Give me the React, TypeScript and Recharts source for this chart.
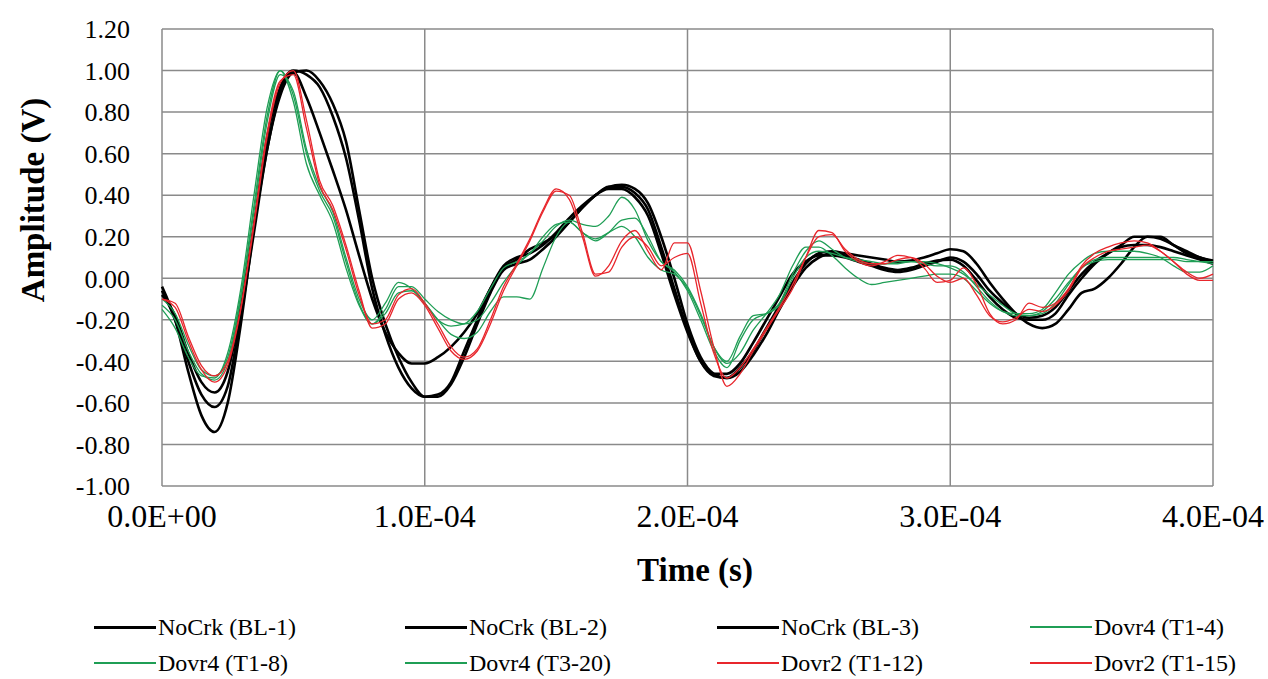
import { CartesianGrid, Label, Line, LineChart, XAxis, YAxis } from 'recharts';

// Sample times in microseconds (converted to seconds for the x axis)
const TIME_US = [
  0, 5, 10, 15, 20, 25, 30, 35, 40, 45, 50, 55, 60, 65, 70, 75, 80, 85, 90, 95,
  100, 105, 110, 115, 120, 125, 130, 135, 140, 145, 150, 155, 160, 165, 170, 175, 180, 185, 190, 195,
  200, 205, 210, 215, 220, 225, 230, 235, 240, 245, 250, 255, 260, 265, 270, 275, 280, 285, 290, 295,
  300, 305, 310, 315, 320, 325, 330, 335, 340, 345, 350, 355, 360, 365, 370, 375, 380, 385, 390, 395,
  400,
];

// Amplitude (V) per sample
const BL1 = [
  -0.04, -0.2, -0.45, -0.66, -0.74, -0.6, -0.22, 0.25, 0.68, 0.92, 1.0, 0.98, 0.92, 0.78, 0.58, 0.28, -0.05, -0.27, -0.43, -0.53,
  -0.57, -0.56, -0.5, -0.35, -0.2, -0.05, 0.06, 0.1, 0.12, 0.16, 0.22, 0.29, 0.35, 0.4, 0.44, 0.44, 0.41, 0.33, 0.15, -0.05,
  -0.25, -0.4, -0.47, -0.48, -0.43, -0.35, -0.24, -0.13, -0.02, 0.07, 0.12, 0.13, 0.12, 0.11, 0.1, 0.09, 0.08, 0.085, 0.1, 0.12,
  0.14, 0.13, 0.07, -0.02, -0.1, -0.17, -0.22, -0.24, -0.22, -0.15, -0.07, -0.05, 0.0, 0.07, 0.15, 0.2, 0.2, 0.16, 0.13, 0.1,
  0.085,
];
const BL2 = [
  -0.06, -0.2, -0.4, -0.56, -0.62, -0.52, -0.18, 0.22, 0.62, 0.88, 0.99, 1.0, 0.95, 0.84, 0.66, 0.33, 0.0, -0.22, -0.38, -0.5,
  -0.57, -0.57, -0.51, -0.38, -0.22, -0.07, 0.04, 0.07, 0.09, 0.14, 0.2, 0.27, 0.34, 0.4, 0.44, 0.45, 0.43, 0.36, 0.2, 0.0,
  -0.22, -0.38, -0.46, -0.48, -0.45, -0.37, -0.27, -0.15, -0.04, 0.05, 0.1, 0.12, 0.11, 0.09, 0.07, 0.05, 0.04, 0.05, 0.07, 0.085,
  0.09, 0.06, -0.01, -0.09, -0.15, -0.19, -0.2, -0.2, -0.17, -0.08, 0.0, 0.07, 0.12, 0.16, 0.2, 0.2, 0.19, 0.16, 0.12, 0.1,
  0.08,
];
const BL3 = [
  -0.08, -0.18, -0.36, -0.5, -0.55, -0.45, -0.14, 0.25, 0.62, 0.9, 0.99, 0.87, 0.7, 0.52, 0.33, 0.11, -0.1, -0.26, -0.36, -0.41,
  -0.41, -0.38, -0.33, -0.26, -0.17, -0.05, 0.05, 0.09, 0.14, 0.17, 0.21, 0.27, 0.34, 0.4, 0.43, 0.43, 0.39, 0.3, 0.12, -0.08,
  -0.26, -0.4, -0.46, -0.46, -0.41, -0.31, -0.2, -0.09, 0.02, 0.08, 0.11, 0.11, 0.1, 0.08, 0.06, 0.04, 0.03, 0.04, 0.06, 0.08,
  0.1, 0.08, 0.02, -0.06, -0.12, -0.17, -0.19, -0.18, -0.14, -0.06, 0.02, 0.08, 0.12, 0.15, 0.16, 0.16, 0.15, 0.13, 0.11, 0.09,
  0.07,
];
const T1_4 = [
  -0.1, -0.17, -0.32, -0.44, -0.47, -0.38, -0.08, 0.35, 0.78, 1.0, 0.88, 0.6, 0.42, 0.3, 0.08, -0.12, -0.22, -0.15, -0.04, -0.04,
  -0.1, -0.16, -0.2, -0.22, -0.2, -0.12, -0.02, 0.06, 0.12, 0.18, 0.25, 0.28, 0.26, 0.25, 0.3, 0.39, 0.33, 0.18, 0.08, 0.03,
  -0.06, -0.2, -0.35, -0.43, -0.3, -0.2, -0.17, -0.12, 0.02, 0.13, 0.18, 0.14, 0.1, 0.08, 0.07, 0.07, 0.08, 0.08, 0.07, 0.06,
  0.06, 0.03, -0.04, -0.11, -0.16, -0.18, -0.18, -0.16, -0.1, -0.02, 0.05, 0.09, 0.1, 0.1, 0.1, 0.1, 0.1, 0.1, 0.09, 0.08,
  0.07,
];
const T1_8 = [
  -0.13, -0.2, -0.35, -0.46, -0.49, -0.4, -0.1, 0.32, 0.75, 0.98, 0.9, 0.62, 0.44, 0.32, 0.1, -0.1, -0.2, -0.12, -0.02, -0.05,
  -0.12, -0.2, -0.27, -0.29, -0.26, -0.16, -0.09, -0.09, -0.1, 0.05, 0.2, 0.27, 0.22, 0.18, 0.22, 0.28, 0.29, 0.2, 0.08, 0.04,
  -0.04, -0.17, -0.33, -0.41, -0.36, -0.25, -0.17, -0.08, 0.06, 0.15, 0.15, 0.11, 0.05, 0.0, -0.03, -0.02, -0.01, 0.0, 0.01, 0.02,
  0.02, 0.0, -0.06, -0.12, -0.16, -0.17, -0.17, -0.15, -0.07, 0.02, 0.08, 0.12, 0.13, 0.13, 0.13, 0.12, 0.1, 0.06, 0.03, 0.03,
  0.06,
];
const T3_20 = [
  -0.15, -0.24, -0.38, -0.47, -0.48, -0.36, -0.05, 0.4, 0.82, 1.0, 0.85, 0.55, 0.4, 0.27, 0.05, -0.13, -0.22, -0.17, -0.07, -0.06,
  -0.12, -0.2, -0.23, -0.22, -0.16, -0.05, 0.05, 0.08, 0.12, 0.2, 0.26, 0.27, 0.22, 0.19, 0.22, 0.25, 0.2, 0.1, 0.04, 0.02,
  -0.05, -0.18, -0.33, -0.4, -0.28, -0.18, -0.17, -0.13, 0.0, 0.1, 0.13, 0.12, 0.1, 0.09, 0.08, 0.07, 0.07, 0.08, 0.08, 0.07,
  0.05, 0.02, -0.03, -0.08, -0.13, -0.17, -0.18, -0.17, -0.12, -0.03, 0.05, 0.08, 0.09, 0.09, 0.09, 0.09, 0.09, 0.09, 0.08, 0.08,
  0.08,
];
const T1_12 = [
  -0.1, -0.12, -0.28, -0.42, -0.47, -0.4, -0.14, 0.27, 0.7, 0.95, 0.98, 0.72, 0.45, 0.33, 0.14, -0.08, -0.22, -0.2, -0.08, -0.05,
  -0.12, -0.22, -0.33, -0.38, -0.34, -0.2, -0.04, 0.07, 0.19, 0.33, 0.43, 0.38, 0.2, 0.01, 0.06, 0.18, 0.23, 0.13, 0.04, 0.17,
  0.17, -0.06, -0.33, -0.52, -0.46, -0.35, -0.25, -0.15, -0.05, 0.1, 0.23, 0.22, 0.13, 0.08, 0.06, 0.08, 0.11, 0.1, 0.05, -0.02,
  -0.01, 0.05, -0.03, -0.17, -0.22, -0.2, -0.12, -0.14, -0.12, -0.05, 0.06, 0.12, 0.15, 0.17, 0.18, 0.17, 0.13, 0.08, 0.02, -0.01,
  -0.01,
];
const T1_15 = [
  -0.1, -0.14, -0.3, -0.44, -0.5, -0.42, -0.15, 0.25, 0.68, 0.94, 1.0, 0.76, 0.47, 0.35, 0.16, -0.06, -0.24, -0.22, -0.1, -0.07,
  -0.13, -0.24, -0.35, -0.39, -0.35, -0.22, -0.06, 0.06, 0.18, 0.32, 0.42, 0.4, 0.22, 0.02, 0.03, 0.15, 0.2, 0.15, 0.06, 0.1,
  0.12, -0.12, -0.36, -0.48, -0.43, -0.34, -0.24, -0.14, -0.03, 0.1, 0.2, 0.21, 0.14, 0.09, 0.07, 0.07, 0.09, 0.1, 0.07, 0.01,
  -0.02, 0.0, -0.08, -0.18, -0.21, -0.19, -0.15, -0.16, -0.13, -0.06, 0.05, 0.1, 0.13, 0.14, 0.15, 0.16, 0.13, 0.08, 0.03, 0.0,
  0.02,
];

const X_TICKS = [0, 1e-4, 2e-4, 3e-4, 4e-4];
const Y_TICKS = [-1, -0.8, -0.6, -0.4, -0.2, 0, 0.2, 0.4, 0.6, 0.8, 1, 1.2];

const BLACK = '#000000';
const GREEN = '#1f9e55';
const RED = '#e8262c';

const SERIES = [
  { key: 'bl1', name: 'NoCrk (BL-1)', values: BL1, color: BLACK, width: 2.6 },
  { key: 'bl2', name: 'NoCrk (BL-2)', values: BL2, color: BLACK, width: 2.6 },
  { key: 'bl3', name: 'NoCrk (BL-3)', values: BL3, color: BLACK, width: 2.6 },
  { key: 't14', name: 'Dovr4 (T1-4)', values: T1_4, color: GREEN, width: 1.3 },
  { key: 't18', name: 'Dovr4 (T1-8)', values: T1_8, color: GREEN, width: 1.3 },
  { key: 't320', name: 'Dovr4 (T3-20)', values: T3_20, color: GREEN, width: 1.3 },
  { key: 't112', name: 'Dovr2 (T1-12)', values: T1_12, color: RED, width: 1.3 },
  { key: 't115', name: 'Dovr2 (T1-15)', values: T1_15, color: RED, width: 1.3 },
];

const data = TIME_US.map((t, i) => {
  const row: Record<string, number> = { t: t * 1e-6 };
  SERIES.forEach((s) => {
    row[s.key] = s.values[i];
  });
  return row;
});

// Excel-style scientific labels: 1.0E-04
function sci(v: number) {
  const [m, e] = v.toExponential(1).split('e');
  const exp = Number(e);
  return `${m}E${exp < 0 ? '-' : '+'}${String(Math.abs(exp)).padStart(2, '0')}`;
}

const FONT = '"Liberation Serif", "Times New Roman", serif';
const TITLE_STYLE = { fill: '#000', fontSize: 33, fontWeight: 'bold', fontFamily: FONT } as const;

// legend: two rows of four, sample line then text
const LEGEND_COLS = [94, 405, 717, 1030];
const LEGEND_ROWS = [627, 663];

export default function App() {
  return (
    <div style={{ position: 'relative', width: 1268, height: 679, background: '#fff', fontFamily: FONT }}>
      <style>{'body{margin:0}'}</style>
      <LineChart width={1268} height={600} data={data} margin={{ top: 29, right: 55, bottom: 0, left: 0 }}>
        <CartesianGrid stroke="#8a8a8a" strokeWidth={1.5} />
        <XAxis
          dataKey="t"
          type="number"
          domain={[0, 4e-4]}
          ticks={X_TICKS}
          interval={0}
          tickFormatter={sci}
          axisLine={false}
          tickLine={false}
          tickSize={0}
          tickMargin={18}
          height={114}
          tick={{ fill: '#000', fontSize: 32, fontFamily: FONT }}
        >
          <Label
            content={() => (
              <text x={695} y={570} textAnchor="middle" dominantBaseline="central" style={TITLE_STYLE}>
                Time (s)
              </text>
            )}
          />
        </XAxis>
        <YAxis
          type="number"
          domain={[-1, 1.2]}
          ticks={Y_TICKS}
          interval={0}
          tickFormatter={(v: number) => v.toFixed(2)}
          axisLine={false}
          tickLine={false}
          tickSize={0}
          tickMargin={32}
          width={162}
          tick={{ fill: '#000', fontSize: 26, fontFamily: FONT }}
        >
          <Label
            content={() => (
              <text
                x={33}
                y={200}
                transform="rotate(-90 33 200)"
                textAnchor="middle"
                dominantBaseline="central"
                style={TITLE_STYLE}
              >
                Amplitude (V)
              </text>
            )}
          />
        </YAxis>
        {SERIES.map((s) => (
          <Line
            key={s.key}
            dataKey={s.key}
            name={s.name}
            type="monotone"
            stroke={s.color}
            strokeWidth={s.width}
            dot={false}
            activeDot={false}
            isAnimationActive={false}
          />
        ))}
      </LineChart>
      {SERIES.map((s, i) => {
        const left = LEGEND_COLS[i % 4];
        const top = LEGEND_ROWS[Math.floor(i / 4)];
        return (
          <div key={s.key} style={{ position: 'absolute', left, top: top - 15, height: 30, display: 'flex', alignItems: 'center' }}>
            <div style={{ width: 62, borderTop: `${s.width > 2 ? 3 : 2}px solid ${s.color}` }} />
            <span style={{ marginLeft: 2, fontSize: 24, color: '#000', whiteSpace: 'nowrap' }}>{s.name}</span>
          </div>
        );
      })}
    </div>
  );
}
